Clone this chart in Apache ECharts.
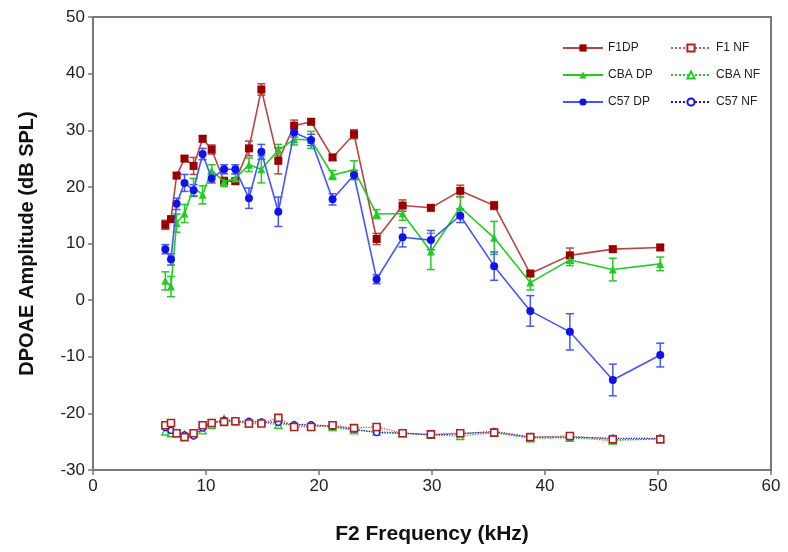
<!DOCTYPE html>
<html><head><meta charset="utf-8">
<script src="https://cdn.jsdelivr.net/npm/echarts@6/dist/echarts.min.js"></script>
<style>html,body{margin:0;padding:0;background:#fff}#c{width:788px;height:552px}</style>
</head><body><div id="c"></div>
<script>
const freqKHz = [6.4,6.9,7.4,8.1,8.9,9.7,10.5,11.6,12.6,13.8,14.9,16.4,17.8,19.3,21.2,23.1,25.1,27.4,29.9,32.5,35.5,38.7,42.2,46.0,50.2];
const f1DP  = [13.3,14.3,22.0,25.0,23.7,28.5,26.6,21.0,21.0,26.8,37.2,24.6,30.8,31.5,25.2,29.3,10.8,16.7,16.3,19.3,16.7,4.7,7.9,9.0,9.3];
const f1DPErr = [0.8,0.5,0.5,0.5,1.5,0.5,0.8,0.5,0.5,1.3,1.0,2.3,1.0,0.5,0.5,0.8,1.0,1.0,0.5,1.0,0.7,0.5,1.3,0.5,0.5];
const cbaDP = [3.4,2.4,13.6,15.3,19.9,18.6,22.9,20.9,21.5,23.9,23.1,26.5,28.4,28.3,22.1,23.0,15.2,15.3,8.6,16.4,11.0,3.1,7.1,5.4,6.4];
const cbaDPErr = [1.6,1.8,1.6,1.6,1.6,1.6,1.0,0.8,0.8,1.2,2.4,1.0,1.0,1.5,0.8,1.6,0.8,1.2,3.2,1.8,2.9,1.3,1.0,2.0,1.2];
const c57DP = [9.0,7.2,17.0,20.7,19.4,25.8,21.5,23.1,23.1,18.0,26.2,15.6,29.6,28.3,17.8,22.1,3.7,11.1,10.6,14.9,6.0,-1.9,-5.6,-14.1,-9.7];
const c57DPErr = [0.8,1.0,1.0,1.5,1.0,1.0,0.8,0.8,0.8,1.8,1.3,2.6,0.8,1.0,1.0,0.8,0.8,1.7,1.7,1.2,2.5,2.7,3.2,2.8,2.1];
const f1NF  = [-22.1,-21.7,-23.5,-24.2,-23.5,-22.1,-21.7,-21.5,-21.4,-21.8,-21.8,-20.8,-22.4,-22.4,-22.1,-22.6,-22.4,-23.5,-23.7,-23.5,-23.4,-24.2,-24.0,-24.6,-24.6];
const cbaNF = [-23.2,-23.5,-23.5,-23.8,-23.6,-23.0,-22.0,-21.0,-21.4,-21.8,-21.6,-22.0,-22.0,-22.2,-22.4,-23.0,-23.2,-23.5,-23.8,-24.0,-23.4,-24.4,-24.3,-24.8,-24.5];
const c57NF = [-22.5,-23.0,-23.4,-23.8,-24.0,-22.6,-21.6,-21.2,-21.4,-21.4,-21.5,-21.6,-22.0,-22.0,-22.3,-22.8,-23.4,-23.5,-23.8,-23.6,-23.2,-24.2,-24.2,-24.4,-24.4];
const xTicks = [0,10,20,30,40,50,60];
const yTicks = [-30,-20,-10,0,10,20,30,40,50];

const RED='#990000', RED_L='#b84444', GRN='#22cc22', BLU='#1111ee', BLU_L='#4455ff';
const pairs = (ys) => freqKHz.map((x,i)=>[x,ys[i]]);
const errData = (ys,es) => freqKHz.map((x,i)=>[x,ys[i]-es[i],ys[i]+es[i]]);

function errSeries(ys,es,color){
  return {
    type:'custom', silent:true, z:1,
    data: errData(ys,es),
    encode:{x:0,y:[1,2]},
    renderItem:(params,api)=>{
      const lo=api.coord([api.value(0),api.value(1)]);
      const hi=api.coord([api.value(0),api.value(2)]);
      const w=4;
      const st={stroke:color,lineWidth:1.5};
      return {type:'group',children:[
        {type:'line',shape:{x1:lo[0],y1:lo[1],x2:hi[0],y2:hi[1]},style:st},
        {type:'line',shape:{x1:lo[0]-w,y1:lo[1],x2:lo[0]+w,y2:lo[1]},style:st},
        {type:'line',shape:{x1:hi[0]-w,y1:hi[1],x2:hi[0]+w,y2:hi[1]},style:st}
      ]};
    }
  };
}

const chart = echarts.init(document.getElementById('c'),null,{renderer:'canvas'});
chart.setOption({
  animation:false,
  backgroundColor:'#fff',
  grid:{left:93,right:17,top:17,bottom:82,show:true,borderColor:'#777',borderWidth:2,backgroundColor:'transparent'},
  legend:[
    {orient:'vertical',left:557,top:37,itemWidth:40,itemHeight:9,itemGap:15,
     textStyle:{fontFamily:'Liberation Sans, Arial, sans-serif',fontSize:12,color:'#222'},
     data:['F1DP','CBA DP','C57 DP']},
    {orient:'vertical',left:665,top:37,itemWidth:40,itemHeight:9,itemGap:15,
     textStyle:{fontFamily:'Liberation Sans, Arial, sans-serif',fontSize:12,color:'#222'},
     data:['F1 NF','CBA NF','C57 NF']}
  ],
  xAxis:{type:'value',min:0,max:60,interval:10,
    name:'F2 Frequency (kHz)',nameLocation:'middle',nameGap:54,
    nameTextStyle:{fontFamily:'Liberation Sans, Arial, sans-serif',fontSize:21,fontWeight:'bold',color:'#111'},
    axisLine:{show:true,onZero:false,lineStyle:{color:'#777',width:2}},
    axisTick:{show:true,length:5,lineStyle:{color:'#777',width:1.5}},
    axisLabel:{margin:8,fontFamily:'Liberation Sans, Arial, sans-serif',fontSize:17,color:'#222',
      formatter:(v)=>xTicks.includes(v)?String(v):''},
    splitLine:{show:false}},
  yAxis:{type:'value',min:-30,max:50,interval:10,
    name:'DPOAE Amplitude (dB SPL)',nameLocation:'middle',nameGap:56,nameRotate:90,
    nameTextStyle:{fontFamily:'Liberation Sans, Arial, sans-serif',fontSize:20,fontWeight:'bold',color:'#111'},
    axisLine:{show:true,onZero:false,lineStyle:{color:'#777',width:2}},
    axisTick:{show:true,length:5,lineStyle:{color:'#777',width:1.5}},
    axisLabel:{margin:8,fontFamily:'Liberation Sans, Arial, sans-serif',fontSize:17,color:'#222',
      formatter:(v)=>yTicks.includes(v)?String(v):''},
    splitLine:{show:false}},
  series:[
    errSeries(f1DP,f1DPErr,RED_L),
    errSeries(cbaDP,cbaDPErr,GRN),
    errSeries(c57DP,c57DPErr,BLU_L),
    {name:'F1DP',type:'line',data:pairs(f1DP),symbol:'rect',symbolSize:8,z:3,
      lineStyle:{color:RED_L,width:1.6},itemStyle:{color:RED}},
    {name:'CBA DP',type:'line',data:pairs(cbaDP),symbol:'triangle',symbolSize:8,z:4,
      lineStyle:{color:GRN,width:1.6},itemStyle:{color:GRN}},
    {name:'C57 DP',type:'line',data:pairs(c57DP),symbol:'circle',symbolSize:8,z:5,
      lineStyle:{color:BLU_L,width:1.6},itemStyle:{color:BLU}},
    {name:'F1 NF',type:'line',data:pairs(f1NF),symbol:'rect',symbolSize:7,z:6,
      lineStyle:{color:'#cc5555',width:1.3,type:'dotted'},itemStyle:{color:'#fff',borderColor:'#b02020',borderWidth:1.6}},
    {name:'CBA NF',type:'line',data:pairs(cbaNF),symbol:'triangle',symbolSize:7,z:4,
      lineStyle:{color:GRN,width:1.3,type:'dotted'},itemStyle:{color:'#fff',borderColor:GRN,borderWidth:1.4}},
    {name:'C57 NF',type:'line',data:pairs(c57NF),symbol:'circle',symbolSize:6,z:5,
      lineStyle:{color:BLU,width:1.3,type:'dotted'},itemStyle:{color:'#fff',borderColor:BLU,borderWidth:1.4}}
  ]
});
</script></body></html>
